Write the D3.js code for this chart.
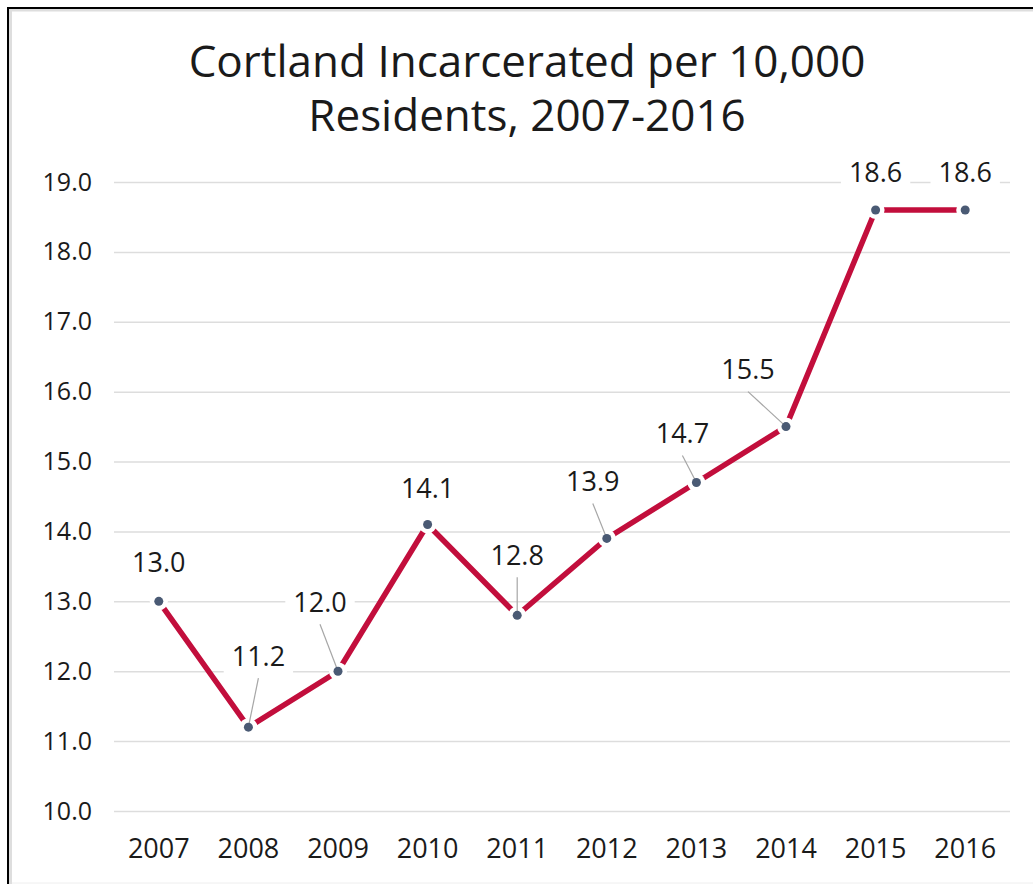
<!DOCTYPE html>
<html>
<head>
<meta charset="utf-8">
<script src="https://cdn.jsdelivr.net/npm/d3@7"></script>
<style>
  html, body { margin: 0; padding: 0; background: #fff; }
  svg { display: block; }
  text { font-family: "Open Sans", Lato, sans-serif; fill: #1a1a1a; }
</style>
</head>
<body>
<svg id="chart" width="1033" height="884"></svg>
<script>
// ---- data ----
const years = ["2007","2008","2009","2010","2011","2012","2013","2014","2015","2016"];
const values = [13.0, 11.2, 12.0, 14.1, 12.8, 13.9, 14.7, 15.5, 18.6, 18.6];
const yTicks = [10, 11, 12, 13, 14, 15, 16, 17, 18, 19];
const titleLines = ["Cortland Incarcerated per 10,000", "Residents, 2007-2016"];

// ---- annotation layout (label offsets in px relative to point, leader flag) ----
const labelLayout = [
  {dx: 0,   dy: -39, leader: false},
  {dx: 10,  dy: -71, leader: true},
  {dx: -18, dy: -69, leader: true},
  {dx: 0,   dy: -36, leader: false},
  {dx: 0,   dy: -60, leader: true},
  {dx: -14, dy: -57, leader: true},
  {dx: -14, dy: -49, leader: true},
  {dx: -38, dy: -57, leader: true},
  {dx: 0,   dy: -38, leader: false},
  {dx: 0,   dy: -38, leader: false}
];

const svg = d3.select("#chart");
const W = 1033, H = 884;
const plot = {left: 114, right: 1010, top: 182, bottom: 811};
const FONT = "'Open Sans', Lato, sans-serif";

// frame
svg.append("rect").attr("x", 9).attr("y", 9).attr("width", 3).attr("height", H - 9).attr("fill", "#dedede");
svg.append("rect").attr("x", 9).attr("y", 9).attr("width", W - 9).attr("height", 2.5).attr("fill", "#dedede");
svg.append("line").attr("x1", 8).attr("x2", 8).attr("y1", 7).attr("y2", H).attr("stroke", "#000").attr("stroke-width", 2);
svg.append("line").attr("x1", 7).attr("x2", W).attr("y1", 8).attr("y2", 8).attr("stroke", "#000").attr("stroke-width", 2);
svg.append("line").attr("x1", 12).attr("x2", W).attr("y1", 883).attr("y2", 883).attr("stroke", "#eeeeee").attr("stroke-width", 1);

// title (two separate lines)
svg.append("g").selectAll("text").data(titleLines).join("text")
  .attr("x", 527).attr("y", (d, i) => 77 + i * 54)
  .attr("text-anchor", "middle")
  .attr("font-size", 44)
  .text(d => d);

// scales
const x = d3.scaleBand().domain(years).range([plot.left, plot.right]).padding(0);
const cx = d => x(d) + x.bandwidth() / 2;
const y = d3.scaleLinear().domain([10, 19]).range([plot.bottom, plot.top]);

// gridlines
const yAxis = d3.axisLeft(y).tickValues(yTicks).tickFormat(d3.format(".1f"))
  .tickSize(-(plot.right - plot.left)).tickPadding(22);
const gy = svg.append("g").attr("transform", `translate(${plot.left},0)`).call(yAxis);
gy.select(".domain").remove();
gy.selectAll(".tick line").attr("stroke", "#dddddd").attr("stroke-width", 1.5);
gy.selectAll(".tick text").attr("font-size", 25).attr("fill", "#1a1a1a")
  .attr("font-family", FONT);

// x axis labels
const xAxis = d3.axisBottom(x).tickSize(0).tickPadding(0);
const gx = svg.append("g").attr("transform", `translate(0,${plot.bottom})`).call(xAxis);
gx.select(".domain").remove();
gx.selectAll(".tick text").attr("font-size", 27).attr("fill", "#1a1a1a")
  .attr("font-family", FONT)
  .attr("dy", null).attr("y", 47);

const pts = years.map((yr, i) => ({yr, v: values[i], px: cx(yr), py: y(values[i]), lay: labelLayout[i]}));

// line
const line = d3.line().x(d => d.px).y(d => d.py);
svg.append("path").datum(pts).attr("d", line)
  .attr("fill", "none").attr("stroke", "#c20e3c").attr("stroke-width", 5.5)
  .attr("stroke-linejoin", "miter");

// marker halos
svg.append("g").selectAll("circle").data(pts).join("circle")
  .attr("cx", d => d.px).attr("cy", d => d.py).attr("r", 9).attr("fill", "#fff");

// leaders
svg.append("g").selectAll("line").data(pts.filter(d => d.lay.leader)).join("line")
  .attr("x1", d => d.px + d.lay.dx).attr("y1", d => d.py + d.lay.dy + 22)
  .attr("x2", d => d.px).attr("y2", d => d.py)
  .attr("stroke", "#a6a6a6").attr("stroke-width", 1.2);

// markers
svg.append("g").selectAll("circle").data(pts).join("circle")
  .attr("cx", d => d.px).attr("cy", d => d.py).attr("r", 4.5).attr("fill", "#4a5a74");

// labels with white background
const lg = svg.append("g").selectAll("g").data(pts).join("g")
  .attr("transform", d => `translate(${d.px + d.lay.dx},${d.py + d.lay.dy})`);
lg.append("text").attr("text-anchor", "middle").attr("dy", "0.36em")
  .attr("font-size", 27).text(d => d.v.toFixed(1));
lg.each(function() {
  const g = d3.select(this);
  const bb = g.select("text").node().getBBox();
  g.insert("rect", "text").attr("x", bb.x - 8).attr("y", bb.y + 2)
    .attr("width", bb.width + 16).attr("height", bb.height - 2).attr("fill", "#fff");
});
</script>
</body>
</html>
